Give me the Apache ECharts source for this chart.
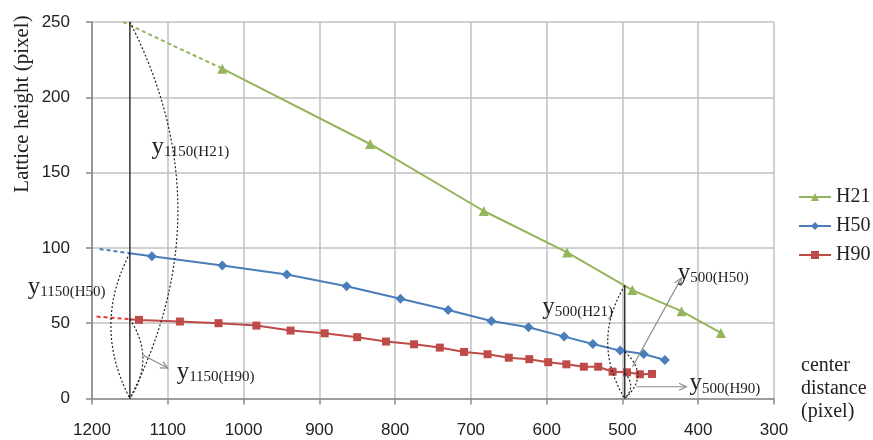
<!DOCTYPE html>
<html>
<head>
<meta charset="utf-8">
<script src="https://cdn.jsdelivr.net/npm/echarts@6/dist/echarts.min.js"></script>
<style>
html,body{margin:0;padding:0;background:#fff;}
#c{width:873px;height:440px;}
</style>
</head>
<body>
<div id="c"></div>
<script>
// ---- data ----
const seriesNames = ['H21', 'H50', 'H90'];
const h21X = [1028, 833, 683, 573, 487, 422, 370];
const h21Y = [219, 169, 124.5, 97, 72, 58, 43.5];
const h50X = [1121, 1028, 943, 864, 793, 730, 673, 624, 577, 539, 503, 472, 444];
const h50Y = [94.5, 88.3, 82.3, 74.5, 66.3, 58.8, 51.5, 47.3, 41.1, 36.2, 31.8, 29.6, 25.6];
const h90X = [1138, 1084, 1033, 983, 938, 893, 850, 812, 775, 741, 709, 678, 650, 623, 598, 574, 551, 532, 513, 494, 477, 461];
const h90Y = [52.2, 51.1, 50.0, 48.4, 45.1, 43.3, 40.7, 37.8, 36.0, 33.8, 30.9, 29.4, 27.1, 26.1, 24.1, 22.7, 21.1, 21.1, 17.8, 17.4, 16.1, 16.3];
// dashed extrapolations
const h21ExtX = [1159, 1028];
const h21ExtY = [250, 219];
const h50ExtX = [1190, 1150];
const h50ExtY = [99.2, 96.5];
const h90ExtX = [1194, 1150];
const h90ExtY = [54.4, 52.7];
// axis ranges / ticks
const xMin = 300, xMax = 1200, xStep = 100;
const yMin = 0, yMax = 250, yStep = 50;
// annotation values
const guideX = [1150, 497];
const guideTop = [250, 75];

const zip = (xs, ys) => xs.map((x, i) => [x, ys[i]]);
const colors = {H21: '#93b55b', H50: '#4a7ebb', H90: '#be4b48'};
const serif = '"Liberation Serif", "DejaVu Serif", serif';
const sans = '"Liberation Sans", Arial, sans-serif';

const chart = echarts.init(document.getElementById('c'), null, {renderer: 'canvas'});

const option = {
  animation: false,
  backgroundColor: '#fff',
  grid: {left: 92, right: 99, top: 22, bottom: 41.5, containLabel: false},
  xAxis: {
    type: 'value', inverse: true, min: xMin, max: xMax, interval: xStep,
    axisLine: {show: true, onZero: false, lineStyle: {color: '#8c8c8c', width: 1.5}},
    axisTick: {show: true, inside: false, length: 6, lineStyle: {color: '#8c8c8c', width: 1.5}},
    axisLabel: {color: '#222', fontFamily: sans, fontSize: 17, margin: 23, formatter: v => String(v)},
    splitLine: {show: true, lineStyle: {color: '#c0c0c0', width: 1.5}}
  },
  yAxis: {
    type: 'value', min: yMin, max: yMax, interval: yStep,
    axisLine: {show: true, onZero: false, lineStyle: {color: '#868686', width: 1.5}},
    axisTick: {show: true, inside: false, length: 6, lineStyle: {color: '#868686', width: 1.5}},
    axisLabel: {color: '#222', fontFamily: sans, fontSize: 17, margin: 22, formatter: v => String(v)},
    splitLine: {show: true, lineStyle: {color: '#c0c0c0', width: 1.5}}
  },
  legend: {
    orient: 'vertical', left: 798, top: 187, padding: 0,
    data: seriesNames,
    itemWidth: 32, itemHeight: 10, itemGap: 9,
    textStyle: {fontFamily: serif, fontSize: 20, color: '#222', padding: [0, 0, 0, 0]}
  },
  series: [
    {name: 'H21ext', type: 'line', data: zip(h21ExtX, h21ExtY), symbol: 'none', silent: true,
     lineStyle: {color: colors.H21, width: 2, type: [4, 3]}, z: 2},
    {name: 'H50ext', type: 'line', data: zip(h50ExtX, h50ExtY), symbol: 'none', silent: true,
     lineStyle: {color: colors.H50, width: 2, type: [4, 3]}, z: 2},
    {name: 'H90ext', type: 'line', data: zip(h90ExtX, h90ExtY), symbol: 'none', silent: true,
     lineStyle: {color: '#e23a34', width: 2, type: [4, 3]}, z: 2},
    {name: 'H21', type: 'line', data: zip(h21X, h21Y), symbol: 'triangle', symbolSize: 10,
     itemStyle: {color: colors.H21}, lineStyle: {color: colors.H21, width: 2}, z: 3},
    {name: 'H50', type: 'line',
     data: [{value: [h50ExtX[1], h50ExtY[1]], symbol: 'none'}].concat(zip(h50X, h50Y)),
     symbol: 'diamond', symbolSize: 10,
     itemStyle: {color: colors.H50}, lineStyle: {color: colors.H50, width: 2}, z: 3},
    {name: 'H90', type: 'line',
     data: [{value: [h90ExtX[1], h90ExtY[1]], symbol: 'none'}].concat(zip(h90X, h90Y)),
     symbol: 'rect', symbolSize: 8,
     itemStyle: {color: colors.H90}, lineStyle: {color: colors.H90, width: 2}, z: 3}
  ]
};
chart.setOption(option);

// ---- annotations, positioned through the axes ----
const P = (x, y) => chart.convertToPixel({gridIndex: 0}, [x, y]);
const g = [];
// vertical guide lines
guideX.forEach((gx, i) => {
  const a = P(gx, 0), b = P(gx, guideTop[i]);
  g.push({type: 'line', z: 20, shape: {x1: a[0], y1: a[1], x2: b[0], y2: b[1]},
          style: {stroke: '#333', lineWidth: 1.5}});
});
// dotted braces: [x, yTop, bulge px]
const braces = [
  [1150, 250, 48], [1150, 96.5, -19], [1150, 52.7, 13],
  [497, 75, -17], [497, 31, 13], [497, 16.8, 6]
];
braces.forEach(([bx, top, bulge]) => {
  const a = P(bx, top), b = P(bx, 0);
  g.push({type: 'bezierCurve', z: 21,
    shape: {x1: a[0], y1: a[1], x2: b[0], y2: b[1], cpx1: a[0] + 2 * bulge, cpy1: (a[1] + b[1]) / 2},
    style: {stroke: '#222', lineWidth: 1.2, lineDash: [2, 2], fill: null}});
});
// arrows: [x1,y1,x2,y2]
const arrows = [
  [1133, 28.9, 1100, 20.2],
  [486.7, 21.1, 422.4, 79.9],
  [481.8, 7.8, 415.8, 7.8]
];
arrows.forEach(([x1, y1, x2, y2]) => {
  const a = P(x1, y1), b = P(x2, y2);
  const ang = Math.atan2(b[1] - a[1], b[0] - a[0]);
  const L = 8, w = 0.45;
  g.push({type: 'line', z: 21, shape: {x1: a[0], y1: a[1], x2: b[0], y2: b[1]},
          style: {stroke: '#8a8a8a', lineWidth: 1.2}});
  g.push({type: 'polyline', z: 21, shape: {points: [
      [b[0] - L * Math.cos(ang - w), b[1] - L * Math.sin(ang - w)],
      [b[0], b[1]],
      [b[0] - L * Math.cos(ang + w), b[1] - L * Math.sin(ang + w)]]},
    style: {stroke: '#8a8a8a', lineWidth: 1.2, fill: null}});
});
// labels: [x, y(center), subscript]
const labels = [
  [1121.6, 167, '1150(H21)'],
  [1284.8, 74.1, '1150(H50)'],
  [1088.3, 17.6, '1150(H90)'],
  [605.8, 60.8, '500(H21)'],
  [426.9, 83.4, '500(H50)'],
  [411.5, 10.1, '500(H90)']
];
labels.forEach(([lx, ly, sub]) => {
  const p = P(lx, ly);
  g.push({type: 'text', z: 22, x: p[0], y: p[1],
    style: {text: '{y|y}{s|' + sub + '}', textVerticalAlign: 'middle', verticalAlign: 'middle',
      rich: {
        y: {fontFamily: serif, fontSize: 25, lineHeight: 26, fill: '#222', verticalAlign: 'bottom'},
        s: {fontFamily: serif, fontSize: 15, lineHeight: 18, fill: '#222', verticalAlign: 'bottom'}
      }}});
});
// axis titles
g.push({type: 'text', z: 22, x: 22, y: 104, rotation: Math.PI / 2,
  style: {text: 'Lattice height (pixel)', fontFamily: serif, fontSize: 21, fill: '#222',
          align: 'center', verticalAlign: 'middle'}});
g.push({type: 'text', z: 22, x: 801, y: 354,
  style: {text: 'center\ndistance\n(pixel)', fontFamily: serif, fontSize: 20, lineHeight: 23, fill: '#222',
          align: 'left', verticalAlign: 'top'}});
chart.setOption({graphic: {elements: g}});
</script>
</body>
</html>
